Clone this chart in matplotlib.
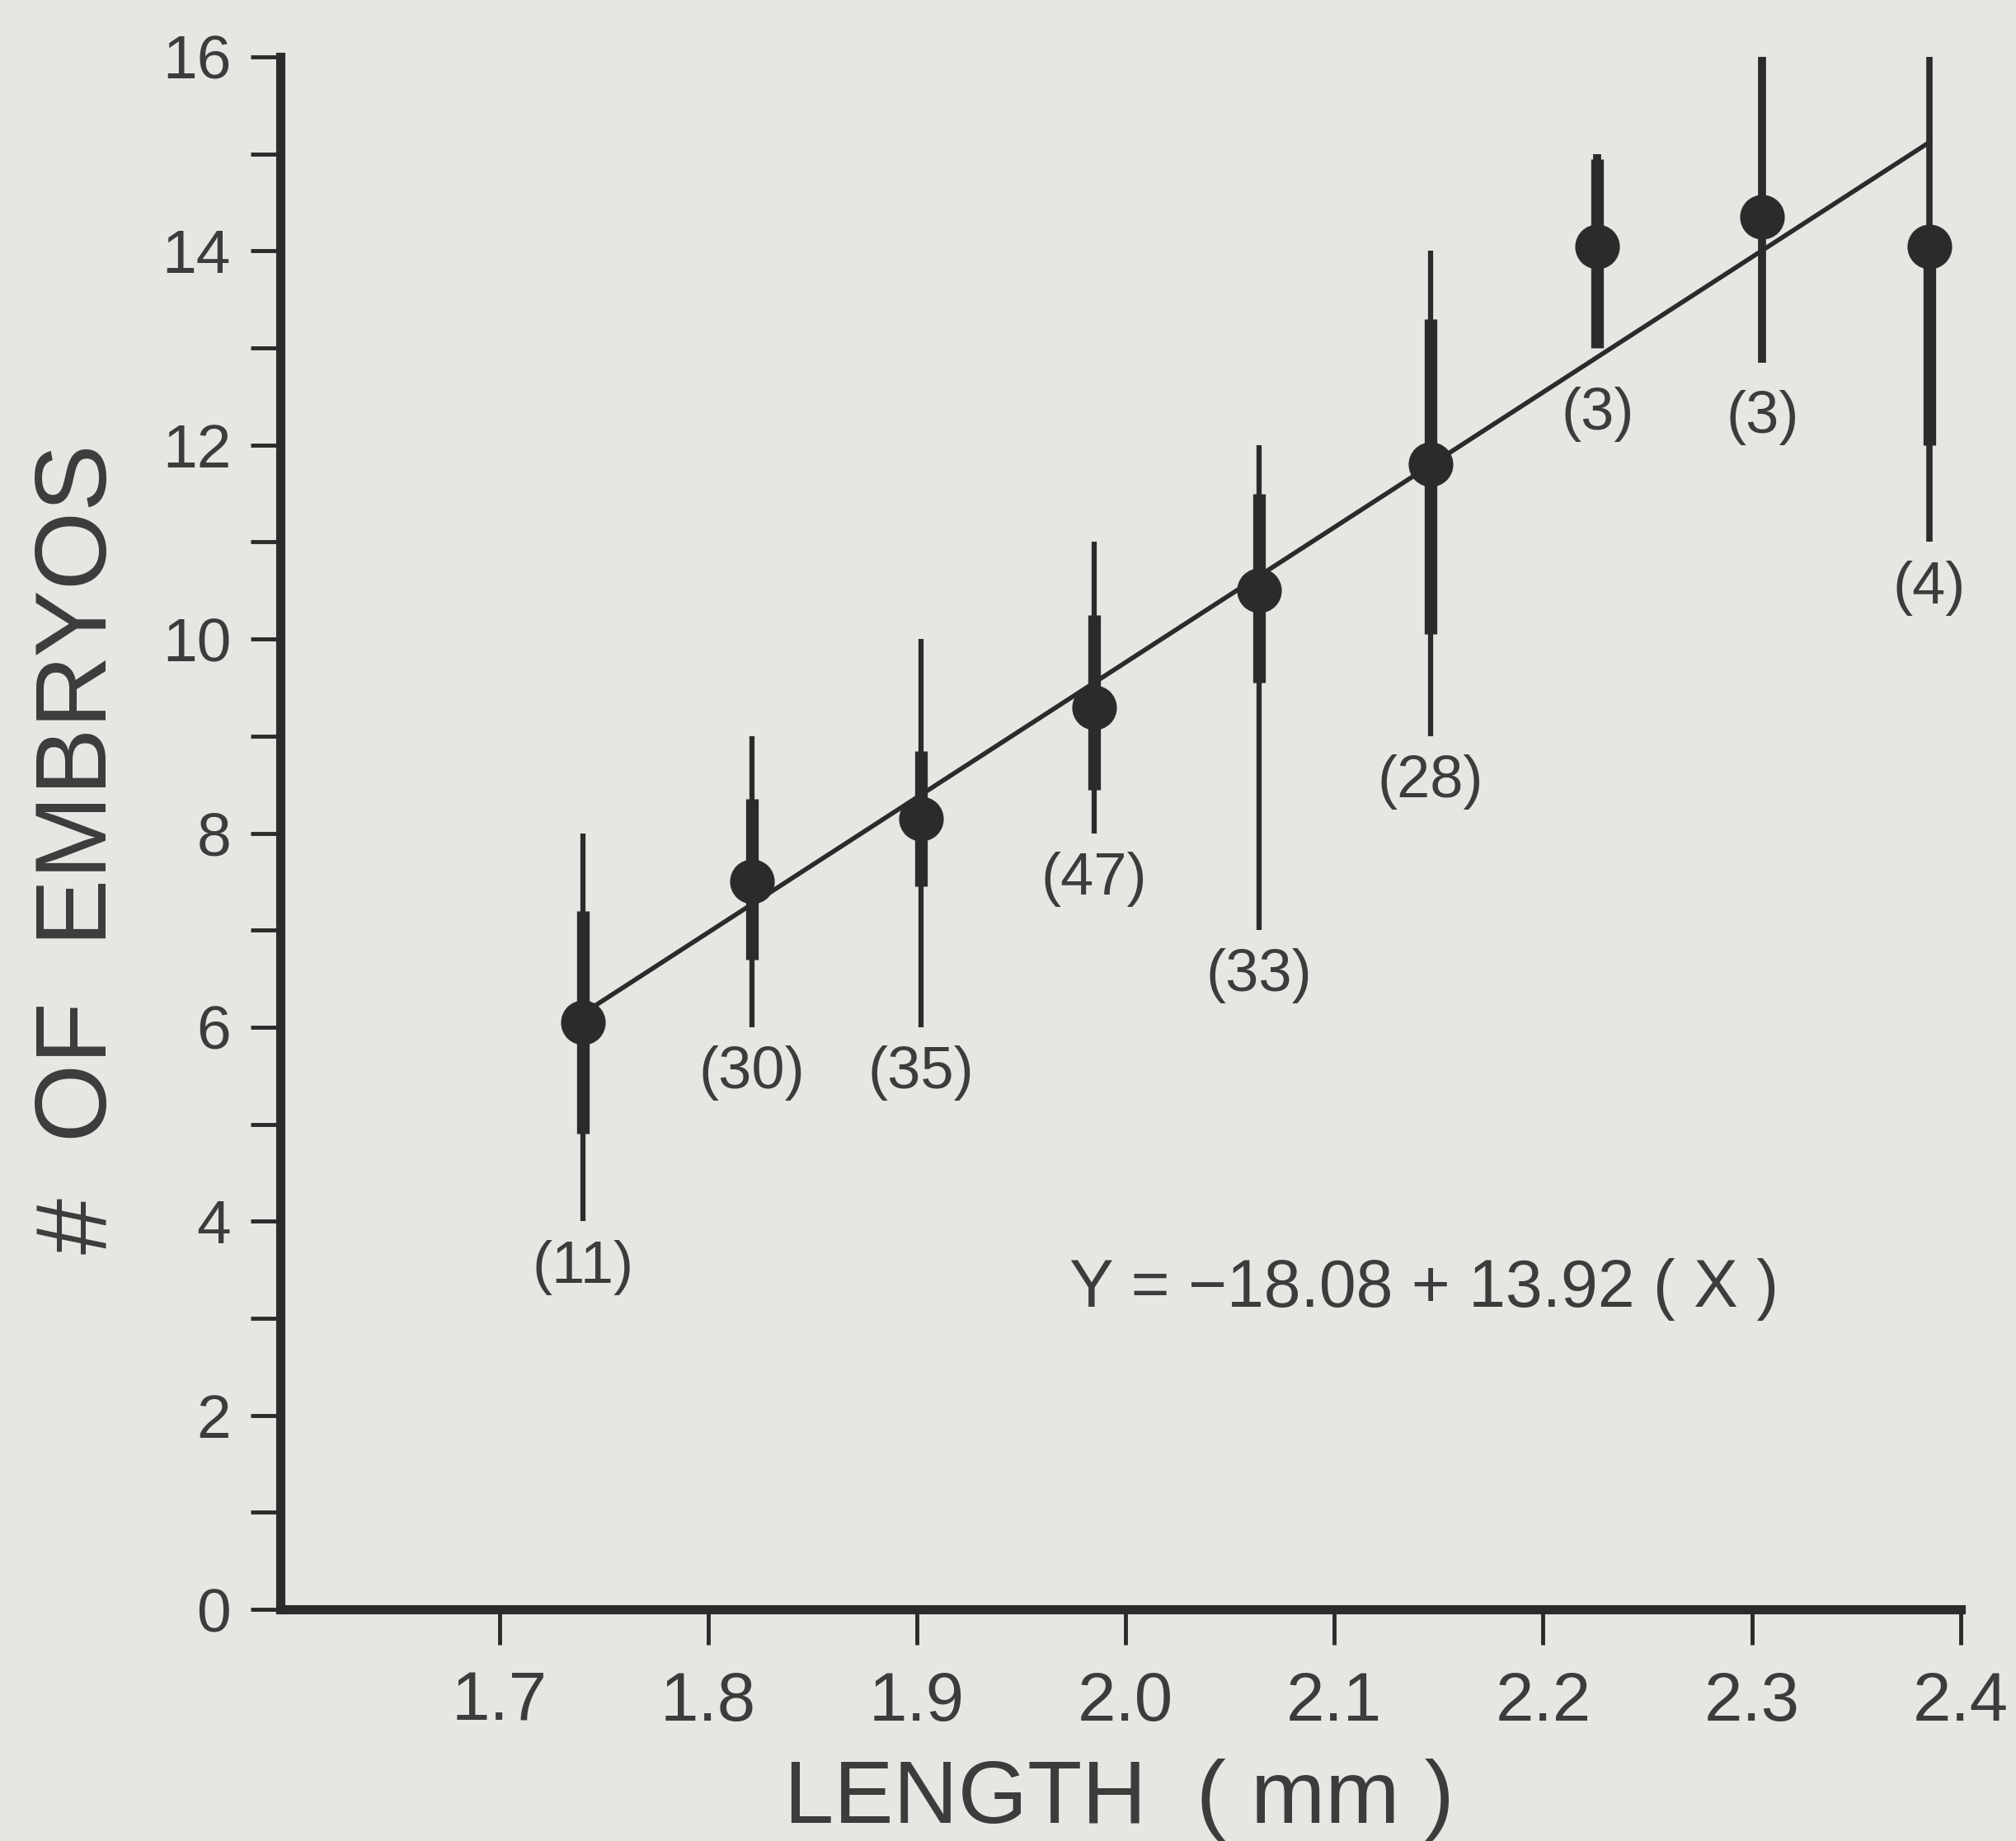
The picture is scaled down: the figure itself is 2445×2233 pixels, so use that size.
import matplotlib
matplotlib.use("Agg")
import matplotlib.pyplot as plt

# mean body length (mm) and mean number of embryos per group
length = [1.740, 1.821, 1.902, 1.985, 2.064, 2.146, 2.226, 2.305, 2.385]
embryos = [6.05, 7.5, 8.15, 9.3, 10.5, 11.8, 14.05, 14.35, 14.05]
# full range of each group
range_lo = [4, 6, 6, 8, 7, 9, 13, 12.85, 11]
range_hi = [8, 9, 10, 11, 12, 14, 15, 16, 16]
# thick bar (standard deviation)
sd_lo = [4.9, 6.7, 7.45, 8.45, 9.55, 10.05, 13.0, 14.35, 12.0]
sd_hi = [7.2, 8.35, 8.85, 10.25, 11.5, 13.3, 14.95, 14.35, 14.05]
counts = ["(11)", "(30)", "(35)", "(47)", "(33)", "(28)", "(3)", "(3)", "(4)"]

intercept = -18.08
slope = 13.92

y_ticks = list(range(0, 17, 2))
x_ticks = [1.7, 1.8, 1.9, 2.0, 2.1, 2.2, 2.3, 2.4]
x_tick_labels = ["1.7", "1.8", "1.9", "2.0", "2.1", "2.2", "2.3", "2.4"]

bg = "#e6e6e2"
ink = "#2b2b2b"
txt = "#3c3c3c"
plt.rcParams["font.family"] = ["Liberation Sans", "DejaVu Sans"]

fig = plt.figure(figsize=(24.45, 22.33), dpi=100, facecolor=bg)
ax = fig.add_axes([0.139, 0.1258, 0.8335, 0.8433], facecolor=bg)

# range lines (thin) and SD bars (thick)
range_lw = [4.5, 4.5, 4.5, 4.5, 4.5, 4.5, 7, 7, 5.5]
ax.vlines(length, range_lo, range_hi, color=ink, lw=range_lw, clip_on=False, zorder=2)
ax.vlines(length, sd_lo, sd_hi, color=ink, lw=11, clip_on=False, zorder=2)
ax.plot(length, embryos, "o", color=ink, ms=38, clip_on=False, zorder=4)

# regression line
fx = [length[0], length[-1]]
fy = [intercept + slope * v for v in fx]
ax.plot(fx, fy, "-", color=ink, lw=4, zorder=3, clip_on=False)

label_drop = [-16, -16, -16, -16, -16, -16, -34, -24, -16]
for x, lo, c, d in zip(length, range_lo, counts, label_drop):
    ax.annotate(c, xy=(x, lo), xytext=(0, d), textcoords="offset points",
                ha="center", va="top", fontsize=52, color=txt)

ax.text(2.143, 3.3, "Y = \u221218.08 + 13.92 ( X )", ha="center", va="center",
        fontsize=58, color=txt)

ax.set_xlim(1.595, 2.4)
ax.set_ylim(0, 16)
ax.set_xticks(x_ticks)
ax.set_xticklabels(x_tick_labels)
ax.set_yticks(y_ticks)
ax.set_yticks(range(0, 17), minor=True)

for s in ["top", "right"]:
    ax.spines[s].set_visible(False)
for s in ["left", "bottom"]:
    ax.spines[s].set_linewidth(8)
    ax.spines[s].set_color(ink)

ax.tick_params(axis="x", which="major", direction="out", length=31, width=3.5,
               color=ink, pad=22, labelsize=60, labelcolor=txt)
ax.tick_params(axis="y", which="both", direction="out", length=26, width=3.5,
               color=ink, pad=17, labelsize=54, labelcolor=txt)

fig.text(0.555, 0.0224, "LENGTH  ( mm )", ha="center", va="center",
         fontsize=78, color=txt)
fig.text(0.0397, 0.539, "#  OF  EMBRYOS", ha="center", va="center",
         rotation=90, fontsize=88, color=txt)

fig.savefig("out.png", dpi=100, facecolor=bg)
